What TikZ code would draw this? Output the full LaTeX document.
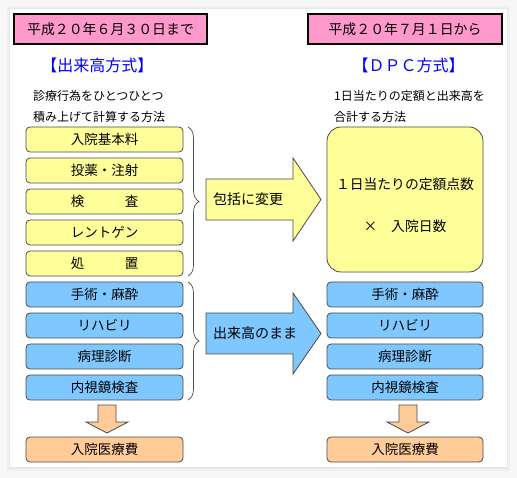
\documentclass[tikz,border=0pt]{standalone}
\usepackage{fontspec}
\setmainfont{Noto Sans CJK JP}
\usetikzlibrary{positioning,decorations.pathreplacing}
\definecolor{pnk}{HTML}{FF99CC}
\definecolor{ylw}{HTML}{FFFF99}
\definecolor{blu}{RGB}{127,200,255}
\definecolor{orng}{HTML}{FFCC99}
\definecolor{ttl}{HTML}{0000FF}
\definecolor{edge}{HTML}{4A4A4A}

\begin{document}
\begin{tikzpicture}[x=1pt, y=1pt,
      every node/.style={font=\fontsize{13.5}{16}\selectfont, align=center, inner sep=0pt},
      datebox/.style={draw=black, line width=1.1pt, fill=pnk, minimum height=30pt,
                      font=\fontsize{13.9}{16}\selectfont},
      item/.style={draw=edge, line width=0.8pt, rounded corners=4pt, outer sep=0pt,
                   minimum width=157pt, minimum height=25pt},
      yitem/.style={item, fill=ylw},
      bitem/.style={item, fill=blu},
      oitem/.style={item, fill=orng},
      head/.style={font=\fontsize{16}{18}\selectfont, text=ttl},
      desc/.style={font=\fontsize{12}{21}\selectfont, align=left, anchor=north west},
      fat/.style={draw=edge, line width=0.8pt},
      brace/.style={decorate, decoration={brace, amplitude=11pt}, draw=black!70, line width=0.7pt},
      node distance=6pt,
  ]
    % background and panel
    \fill[black!3] (0,0) rectangle (517,-478);
    \fill[black!6] (7,-6) rectangle (510,-471);
    \fill[black!9] (9,-8) rectangle (508,-469);
    \fill[white] (10,-9) rectangle (507,-467);

    % Column 1: before
    \node[datebox, minimum width=193pt] (date_l) at (110.5,-29) {平成２０年６月３０日まで};
    \node[head] (head_l) at (97.5,-65) {【出来高方式】};
    \node[desc] (desc_l) at (33,-90) {診療行為をひとつひとつ\\積み上げて計算する方法};

    \node[yitem] (kihon) at (104.5,-139.5) {入院基本料};
    \node[yitem, below=of kihon]  (toyaku) {投薬・注射};
    \node[yitem, below=of toyaku] (kensa)  {検　　　査};
    \node[yitem, below=of kensa]  (rent)   {レントゲン};
    \node[yitem, below=of rent]   (shochi) {処　　　置};

    \node[bitem, below=of shochi] (shuj_l) {手術・麻酔};
    \node[bitem, below=of shuj_l] (reha_l) {リハビリ};
    \node[bitem, below=of reha_l] (byo_l)  {病理診断};
    \node[bitem, below=of byo_l]  (nai_l)  {内視鏡検査};

    \node[oitem, below=37pt of nai_l] (hiyo_l) {入院医療費};

    \draw[brace] ([xshift=5pt]kihon.north east) -- ([xshift=5pt]shochi.south east);
    \draw[brace] ([xshift=5pt]shuj_l.north east) -- ([xshift=5pt]nai_l.south east);

    % Column 2: fat arrows
    \draw[fat, fill=ylw] (206,-179) -- (293,-179) -- (293,-158) -- (321,-199.5)
      -- (293,-241) -- (293,-220) -- (206,-220) -- cycle;
    \node[anchor=west, font=\fontsize{14}{16}\selectfont] (henko) at (213,-199.5) {包括に変更};

    \draw[fat, fill=blu] (206,-313) -- (293,-313) -- (293,-293) -- (321,-333.5)
      -- (293,-374) -- (293,-354) -- (206,-354) -- cycle;
    \node[anchor=west, font=\fontsize{14}{16}\selectfont] (mama) at (213,-333.5) {出来高のまま};

    % Column 3: after
    \node[datebox, minimum width=194pt] (date_r) at (405,-29) {平成２０年７月１日から};
    \node[head] (head_r) at (408.5,-65) {【ＤＰＣ方式】};
    \node[desc] (desc_r) at (334,-90) {1日当たりの定額と出来高を\\合計する方法};

    \node[item, fill=ylw, rounded corners=14pt, minimum width=156pt, minimum height=145pt]
      (dpc) at (405,-199.5) {};
    \node[font=\fontsize{13.8}{16}\selectfont] (dpc_txt) at ([yshift=-5.5pt]dpc.center)
      {１日当たりの定額点数\\[26pt]×　入院日数};

    \node[bitem, minimum width=156pt] (shuj_r) at (405,-294.5) {手術・麻酔};
    \node[bitem, minimum width=156pt, below=of shuj_r] (reha_r) {リハビリ};
    \node[bitem, minimum width=156pt, below=of reha_r] (byo_r)  {病理診断};
    \node[bitem, minimum width=156pt, below=of byo_r]  (nai_r)  {内視鏡検査};

    \node[oitem, minimum width=156pt, below=37pt of nai_r] (hiyo_r) {入院医療費};

    % down arrows
    \draw[fat, fill=orng] ([xshift=-6.5pt,yshift=-5pt]nai_l.south) -- ++(18,0) -- ++(0,-17)
      -- ++(12,0) -- ++(-21,-11) -- ++(-21,11) -- ++(12,0) -- cycle;
    \draw[fat, fill=orng] ([xshift=-6pt,yshift=-5pt]nai_r.south) -- ++(18,0) -- ++(0,-17)
      -- ++(12,0) -- ++(-21,-11) -- ++(-21,11) -- ++(12,0) -- cycle;
  \end{tikzpicture}
\end{document}
